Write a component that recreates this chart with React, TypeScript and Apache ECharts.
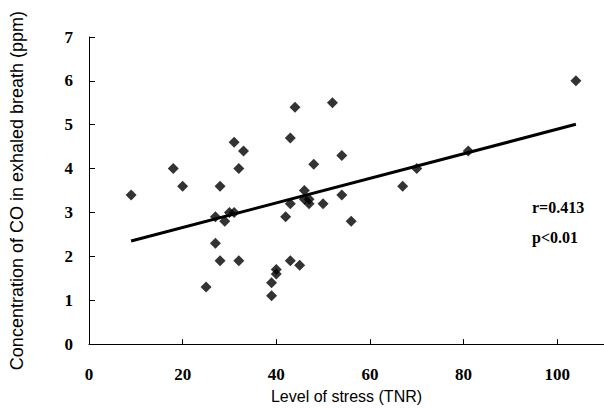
import React, { useEffect, useRef } from "react";
import * as echarts from "echarts";

const stressTNR = [9, 18, 20, 25, 27, 27, 28, 28, 29, 30, 31, 31, 32, 32, 33, 39, 39, 40, 40, 42, 43, 43, 43, 44, 45, 46, 46, 47, 47, 48, 50, 52, 54, 54, 56, 67, 70, 81, 104];
const coPpm = [3.4, 4.0, 3.6, 1.3, 2.9, 2.3, 3.6, 1.9, 2.8, 3.0, 4.6, 3.0, 4.0, 1.9, 4.4, 1.1, 1.4, 1.6, 1.7, 2.9, 3.2, 4.7, 1.9, 5.4, 1.8, 3.5, 3.3, 3.3, 3.2, 4.1, 3.2, 5.5, 4.3, 3.4, 2.8, 3.6, 4.0, 4.4, 6.0];
const fitX = [9, 104];
const fitY = [2.35, 5.01];
const statLines = ["r=0.413", "p<0.01"];

export default function App() {
  const ref = useRef<HTMLDivElement>(null);
  useEffect(() => {
    if (!ref.current) return;
    const chart = echarts.init(ref.current, null, { renderer: "svg" });
    const serif = "'Liberation Serif', 'Times New Roman', serif";
    const sans = "'Liberation Sans', Arial, 'Noto Sans CJK JP', sans-serif";
    chart.setOption({
      animation: false,
      backgroundColor: "#ffffff",
      grid: { left: 89, top: 37, width: 516, height: 312, containLabel: false },
      xAxis: {
        type: "value",
        min: 0,
        max: 110,
        interval: 20,
        name: "Level of stress (TNR)",
        nameLocation: "middle",
        nameGap: 38,
        nameTextStyle: { fontFamily: sans, fontSize: 16, color: "#000" },
        axisLine: { show: true, onZero: false, lineStyle: { color: "#000", width: 1 } },
        axisTick: { show: true, inside: true, length: 5, lineStyle: { color: "#000" } },
        axisLabel: { showMaxLabel: false, fontFamily: serif, fontWeight: "bold", fontSize: 17, color: "#000", margin: 22 },
        splitLine: { show: false },
      },
      yAxis: {
        type: "value",
        min: 0,
        max: 7,
        interval: 1,
        name: "Concentration of CO in exhaled breath (ppm)",
        nameLocation: "middle",
        nameGap: 63,
        nameRotate: 90,
        nameTextStyle: { fontFamily: sans, fontSize: 18, color: "#000" },
        axisLine: { show: true, onZero: false, lineStyle: { color: "#000", width: 1 } },
        axisTick: { show: true, inside: true, length: 6, lineStyle: { color: "#000" } },
        axisLabel: { fontFamily: serif, fontWeight: "bold", fontSize: 17, color: "#000", margin: 16 },
        splitLine: { show: false },
      },
      series: [
        {
          type: "line",
          data: fitX.map((x, i) => [x, fitY[i]]),
          symbol: "none",
          lineStyle: { color: "#000", width: 3 },
          z: 2,
        },
        {
          type: "scatter",
          data: stressTNR.map((x, i) => [x, coPpm[i]]),
          symbol: "diamond",
          symbolSize: 11,
          itemStyle: { color: "#000" },
          z: 3,
        },
      ],
      graphic: statLines.map((t, i) => ({
        type: "text",
        left: 532,
        top: 199 + i * 30,
        style: { text: t, fontFamily: serif, fontWeight: "bold", fontSize: 16, fill: "#000" },
      })),
    });
    return () => chart.dispose();
  }, []);
  return (
    <div
      ref={ref}
      style={{ position: "fixed", left: 0, top: 0, width: 604, height: 409, background: "#fff" }}
    />
  );
}
